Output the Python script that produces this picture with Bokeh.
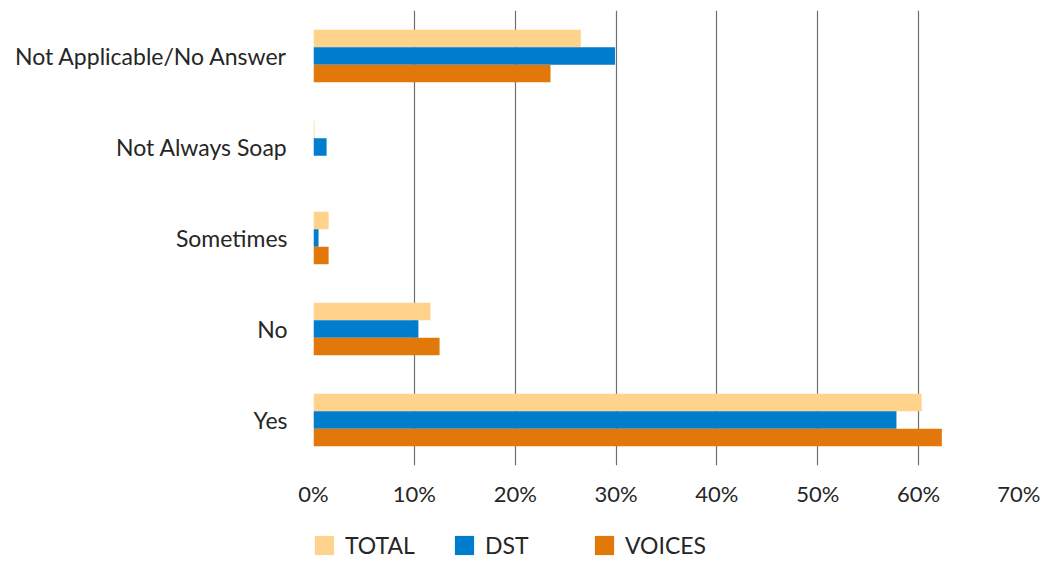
from bokeh.plotting import figure
from bokeh.layouts import column
from bokeh.models import FactorRange, Range1d, PrintfTickFormatter, Legend, LegendItem, ColumnDataSource, FixedTicker
from bokeh.transform import dodge
from bokeh.embed import file_html
from bokeh.resources import INLINE

categories = ["Yes", "No", "Sometimes", "Not Always Soap", "Not Applicable/No Answer"]
series = ["TOTAL", "DST", "VOICES"]
colors = ["#FFD38C", "#007DCC", "#E2780A"]
total = [60.3, 11.6, 1.5, 0.1, 26.5]
dst = [57.8, 10.4, 0.5, 1.3, 29.9]
voices = [62.3, 12.5, 1.5, 0.0, 23.5]
x_ticks = [0, 10, 20, 30, 40, 50, 60, 70]

FONT = "Lato"
TXT = "#262626"

src = ColumnDataSource(dict(cat=categories, total=total, dst=dst, voices=voices))

p = figure(y_range=FactorRange(factors=categories, range_padding=0, factor_padding=0),
           x_range=Range1d(0, 70),
           frame_width=706, frame_height=455,
           min_border_left=313, min_border_right=21, min_border_top=10, min_border_bottom=60,
           output_backend="svg", toolbar_location=None)

bh = 0.193
for col, off, c in zip(["total", "dst", "voices"], [bh, 0, -bh], colors):
    p.hbar(y=dodge("cat", off, range=p.y_range), left=0, right=col, height=bh,
           source=src, color=c, line_color=None)

p.outline_line_color = None
p.ygrid.grid_line_color = None
p.xgrid.grid_line_color = "#6e6e6e"
p.xgrid.grid_line_width = 1.2

p.xaxis.ticker = FixedTicker(ticks=x_ticks)
p.xaxis.formatter = PrintfTickFormatter(format="%d%%")
p.xaxis.axis_line_color = None
p.xaxis.major_tick_line_color = None
p.xaxis.minor_tick_line_color = None
p.xaxis.major_tick_out = 0
p.xaxis.major_label_standoff = 14
p.xaxis.major_label_text_font = FONT
p.xaxis.major_label_text_font_size = "22px"
p.xaxis.major_label_text_color = TXT

p.yaxis.axis_line_color = None
p.yaxis.major_tick_line_color = None
p.yaxis.minor_tick_line_color = None
p.yaxis.major_tick_out = 0
p.yaxis.major_label_standoff = 26
p.yaxis.major_label_text_font = FONT
p.yaxis.major_label_text_font_size = "23px"
p.yaxis.major_label_text_color = TXT

# legend strip below the chart (frames of plots in a column are aligned)
lg = figure(width=1040, height=36, x_range=Range1d(0, 1), y_range=Range1d(0, 1),
            min_border_left=313, min_border_right=21, min_border_top=0, min_border_bottom=0,
            x_axis_location=None, y_axis_location=None,
            output_backend="svg", toolbar_location=None)
lg.outline_line_color = None
lg.grid.grid_line_color = None
items = []
for name, c in zip(series, colors):
    r = lg.hbar(y=[float("nan")], right=[float("nan")], height=0.5, color=c, line_color=None)
    items.append(LegendItem(label=name, renderers=[r]))

legend = Legend(items=items, location=(-1, 2), orientation="horizontal",
                glyph_width=24, glyph_height=24, label_height=24, label_width=97,
                label_standoff=9, spacing=10, padding=0, margin=0,
                border_line_alpha=0, background_fill_alpha=0,
                label_text_font=FONT, label_text_font_size="23px", label_text_color=TXT)
lg.add_layout(legend, "center")

layout = column(p, lg, spacing=0)
open("out.html", "w").write(file_html(layout, INLINE))
